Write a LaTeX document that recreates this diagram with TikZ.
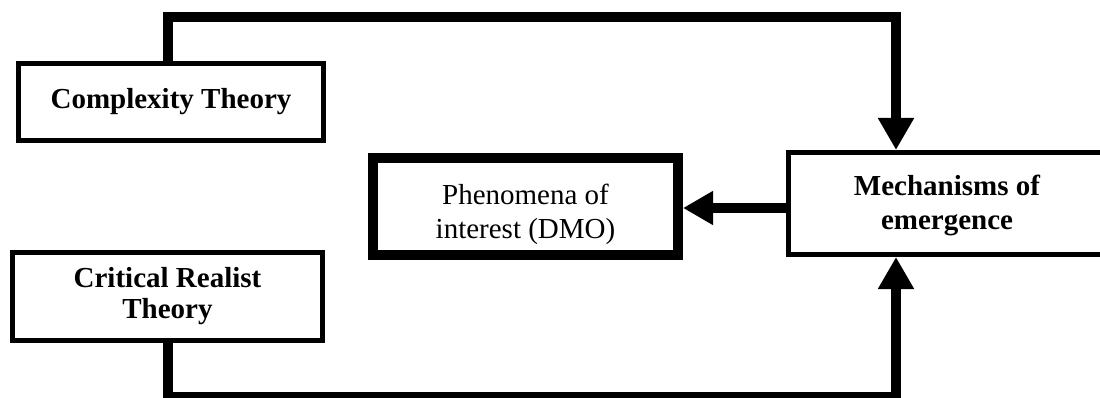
\documentclass[tikz,border=0pt]{standalone}
\usepackage{fontspec}
\setmainfont{Liberation Serif}
\usetikzlibrary{arrows.meta}
\begin{document}
\begin{tikzpicture}[x=1pt,y=-1pt,
  box/.style={draw=black,fill=white,rectangle,line width=5pt,inner sep=0pt,align=center},
  heavybox/.style={box,line width=10pt},
  label/.style={inner sep=0pt,align=center},
  link/.style={draw=black,line width=10pt,line join=miter},
  head/.style={-{Triangle[length=32pt,width=34pt]}},
  bigtext/.style={font=\fontsize{29}{34}\selectfont}]
  \useasboundingbox (0,0) rectangle (1100,398);
  \clip (0,0) rectangle (1100,398);
  \fill[white] (0,0) rectangle (1100,398);

  % theory boxes on the left
  \node[box,bigtext,font=\fontsize{29}{34}\selectfont\bfseries,
        minimum width=305pt,minimum height=77pt] (cx) at (171,102) {Complexity Theory};
  \node[box,font=\fontsize{29}{31}\selectfont\bfseries,
        minimum width=310pt,minimum height=88pt] (cr) at (167.5,296.5) {Critical Realist\\Theory};

  % phenomena box with heavy border
  \node[heavybox,minimum width=305pt,minimum height=97pt] (phen) at (525.5,206.5) {};
  \node[label,font=\fontsize{29}{34}\selectfont] (phentext) at (525.5,214) {Phenomena of\\interest (DMO)};

  % mechanisms box, running off the right edge
  \node[box,minimum width=317pt,minimum height=102pt] (mech) at (947,203.5) {};
  \node[label,font=\fontsize{29}{34}\selectfont\bfseries] (mechtext) at (947,205) {Mechanisms of\\emergence};

  % routing points of the connectors
  \coordinate (tl) at (168,16.7);
  \coordinate (tr) at (896,16.7);
  \coordinate (bl) at (168,396.5);
  \coordinate (br) at (896,396.5);
  \coordinate (mid) at (0,208);

  % connectors
  \draw[link,head] (cx.north -| tl) -- (tl) -- (tr) -- (mech.north -| tr);
  \draw[link,head] (cr.south -| bl) -- (bl) -- (br) -- (mech.south -| br);
  \draw[link,head,{-{Triangle[length=30pt,width=32pt]}}] (mech.west |- mid) -- (phen.east |- mid);
\end{tikzpicture}
\end{document}
